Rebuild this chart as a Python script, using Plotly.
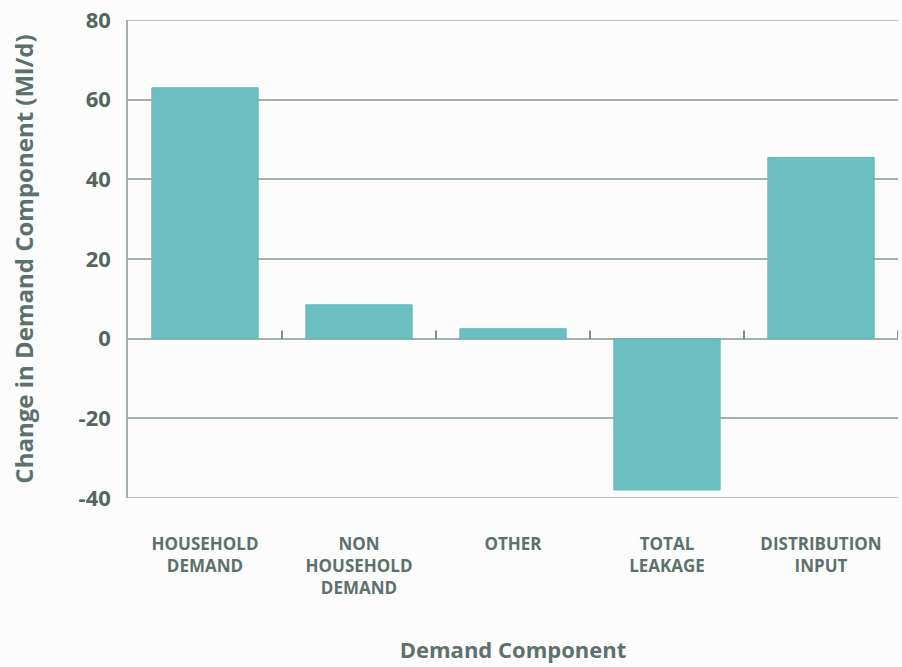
import plotly.graph_objects as go

# Change in each demand component (Ml/d)
categories = ["HOUSEHOLD<br>DEMAND", "NON<br>HOUSEHOLD<br>DEMAND", "OTHER",
              "TOTAL<br>LEAKAGE", "DISTRIBUTION<br>INPUT"]
changes = [63, 8.5, 2.5, -38, 45.5]
y_ticks = [-40, -20, 0, 20, 40, 60, 80]
y_tick_text = ["-40", "-20", "0", "20", "40", "60", "80"]

bar_color = "#6cbfc1"
grid_color = "#a3b1ae"
text_color = "#5d716c"
font_family = "'Open Sans', Lato, sans-serif"
y_min, y_max = -40, 80

fig = go.Figure(go.Bar(
    x=list(range(len(categories))),
    y=changes,
    width=0.69,
    marker=dict(color=bar_color, line=dict(color="#62b6b8", width=1)),
))

shapes = []
# frame lines at the top and bottom of the value range
for yv in (y_min, y_max):
    shapes.append(dict(type="line", xref="paper", yref="y",
                       x0=0, x1=1, y0=yv, y1=yv,
                       line=dict(color=grid_color, width=1.5), layer="below"))
# small upright ticks on the zero line between categories
zero_frac = (0 - y_min) / (y_max - y_min)
for i in range(len(categories)):
    shapes.append(dict(type="line", xref="x", yref="paper",
                       x0=i + 0.5, x1=i + 0.5,
                       y0=zero_frac, y1=zero_frac + 0.017,
                       line=dict(color="#5d6b66", width=1.5)))

fig.update_layout(
    width=902, height=667,
    margin=dict(l=128, r=4, t=17, b=169),
    paper_bgcolor="#fbfcfb", plot_bgcolor="#fbfcfb",
    showlegend=False,
    shapes=shapes,
    font=dict(family=font_family, color=text_color),
    xaxis=dict(
        range=[-0.5, 4.5],
        tickmode="array",
        tickvals=list(range(len(categories))),
        ticktext=categories,
        tickfont=dict(size=17, color=text_color, weight="bold"),
        ticks="", showgrid=False, zeroline=False, showline=False,
        ticklabelstandoff=34,
        title=dict(text="Demand Component", standoff=44,
                   font=dict(size=22, color=text_color, weight="bold")),
    ),
    yaxis=dict(
        range=[y_min, y_max + 0.01],
        tickmode="array", tickvals=y_ticks, ticktext=y_tick_text,
        tickfont=dict(size=22, color="#56665f", weight="bold"),
        showgrid=True, gridcolor=grid_color, gridwidth=1.5,
        zeroline=True, zerolinecolor=grid_color, zerolinewidth=2,
        showline=True, linecolor=grid_color, linewidth=1.5,
        ticks="", ticklabelstandoff=11,
        title=dict(text="Change in Demand Component (Ml/d)", standoff=38,
                   font=dict(size=24, color=text_color, weight="bold")),
    ),
)

fig.write_html("out.html")
